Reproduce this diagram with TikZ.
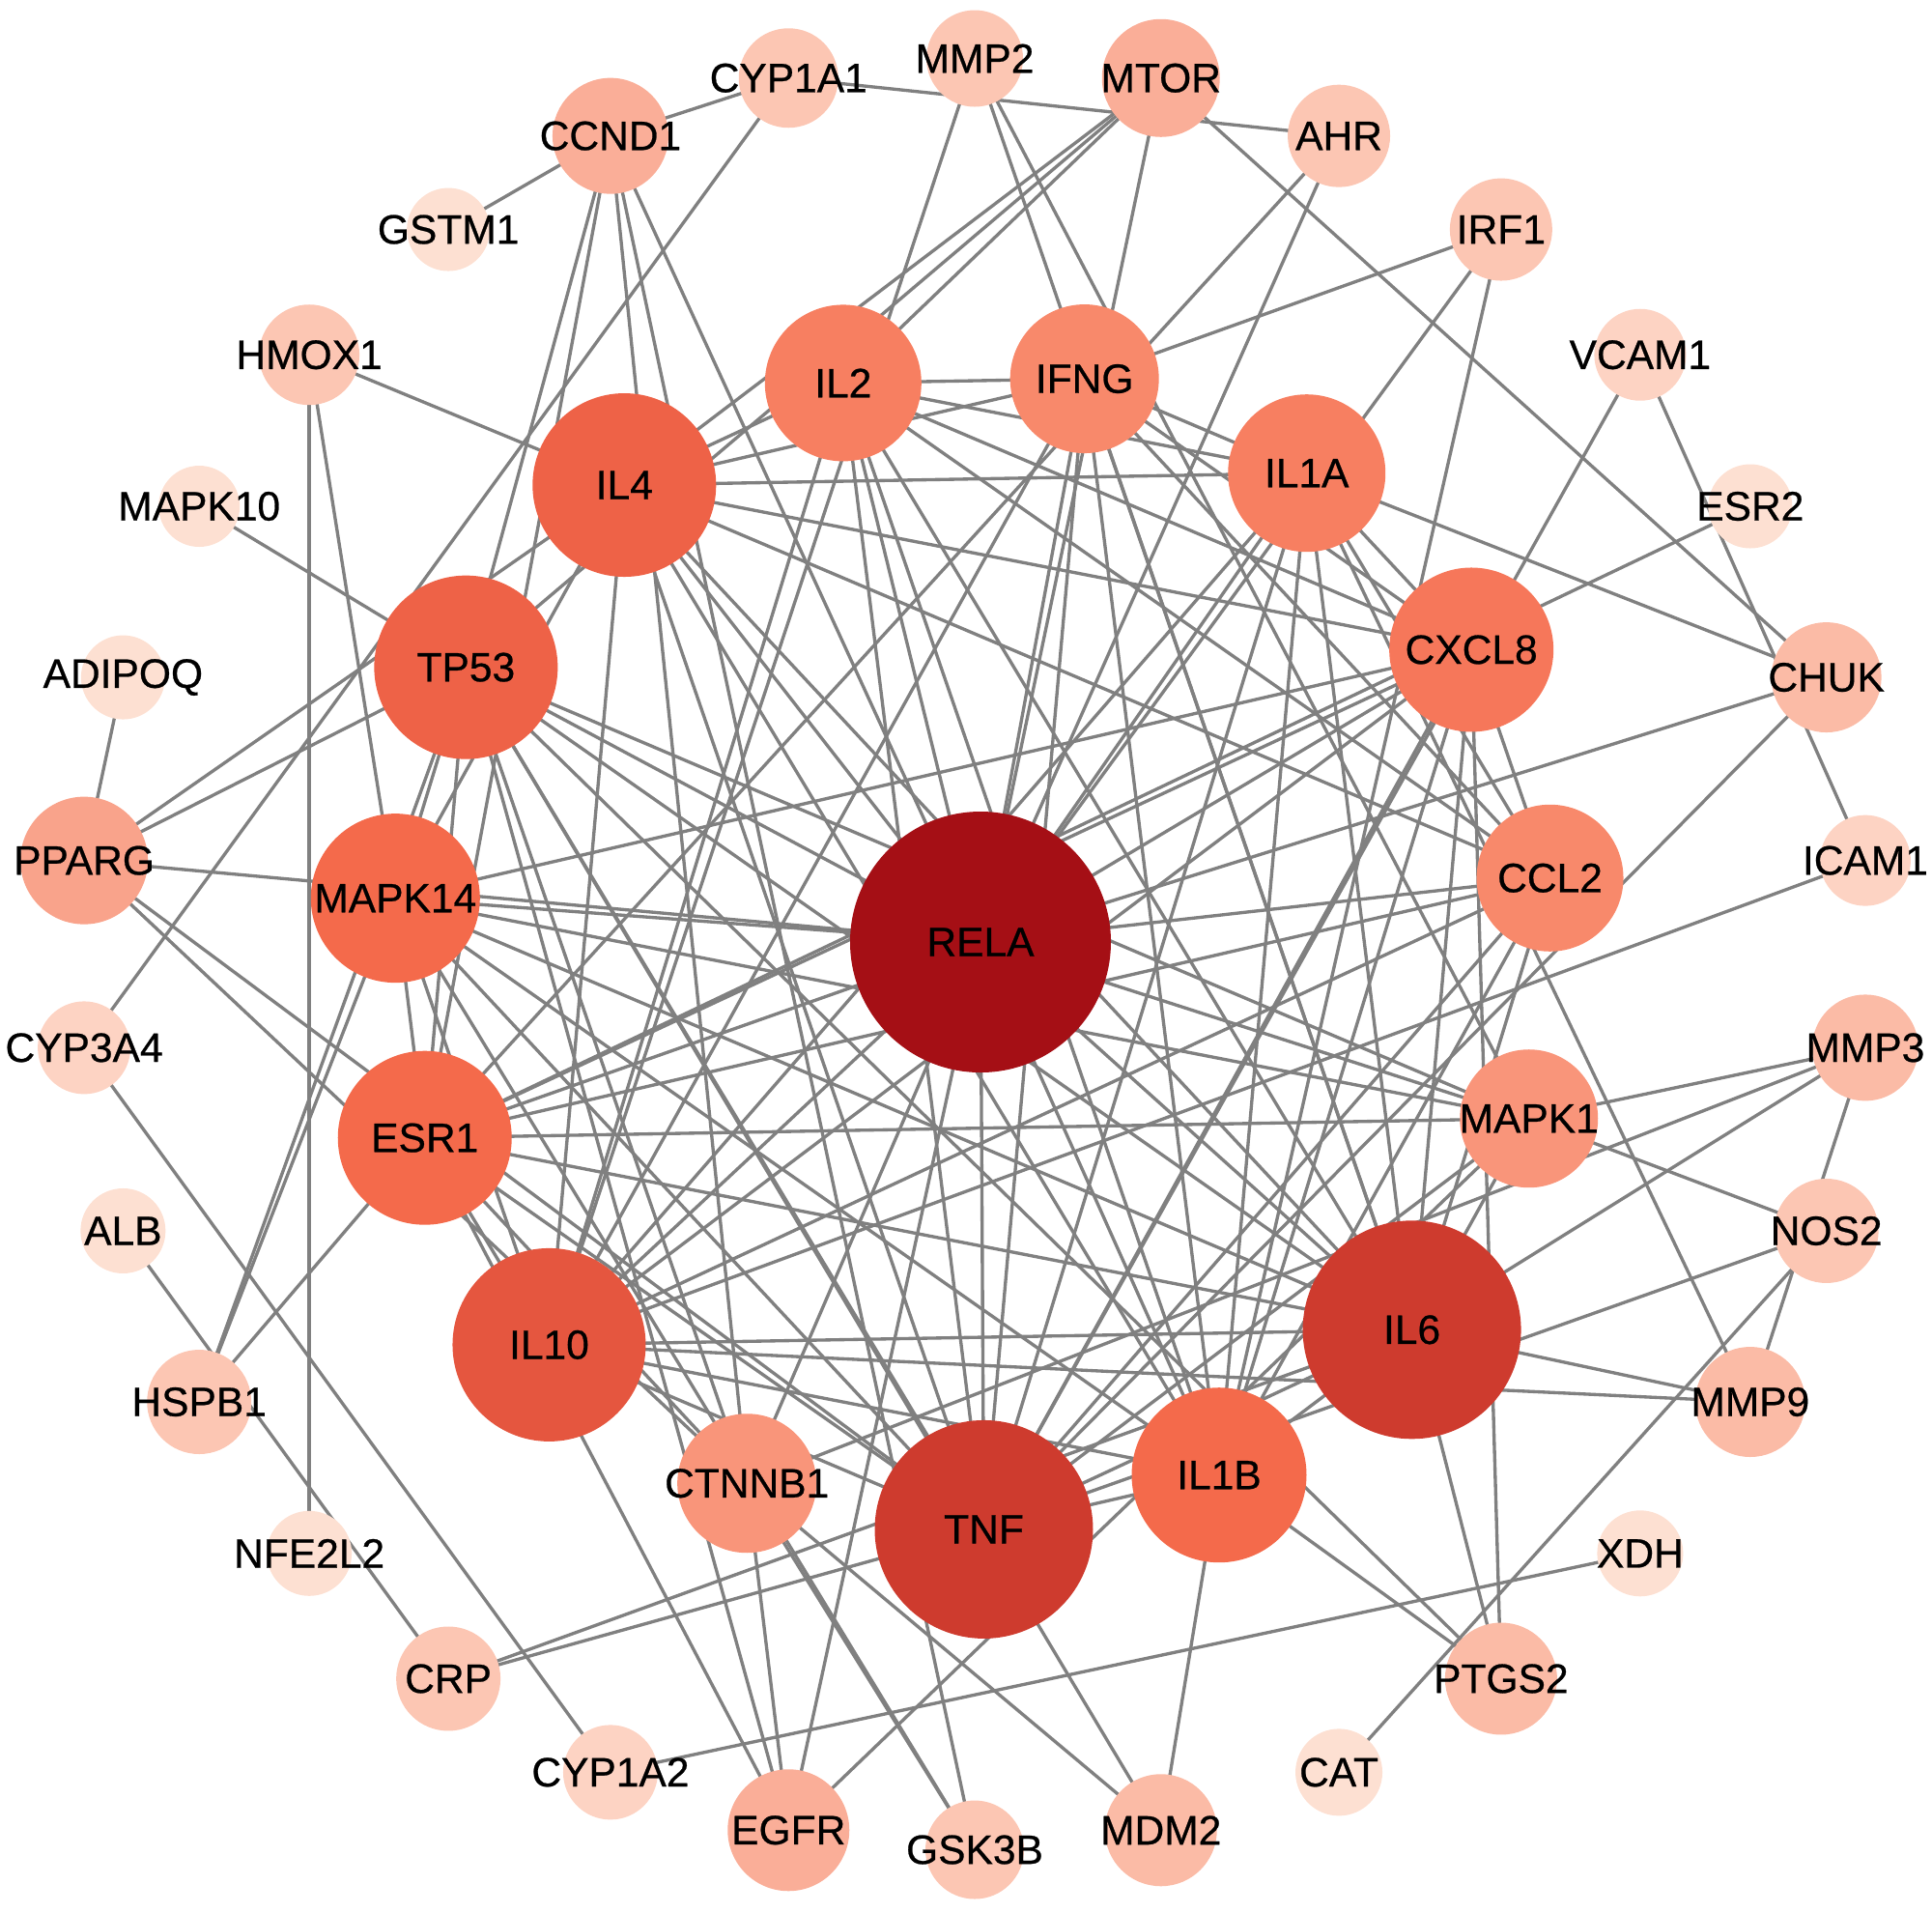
\documentclass[tikz,border=0pt]{standalone}
\usepackage{fontspec}
\setmainfont{Liberation Sans}
\newfontfamily\lblface{Liberation Sans}[FakeBold=0.6]
\pgfdeclarelayer{bg}
\pgfdeclarelayer{fg}
\pgfsetlayers{bg,main,fg}
\definecolor{edgec}{HTML}{808080}
\definecolor{cA}{HTML}{FDE0D2}
\definecolor{cB}{HTML}{FDD3C3}
\definecolor{cC}{HTML}{FCC6B3}
\definecolor{cD}{HTML}{FBBBA6}
\definecolor{cE}{HTML}{FAAE98}
\definecolor{cF}{HTML}{F9A38B}
\definecolor{cG}{HTML}{F9957A}
\definecolor{cH}{HTML}{F8896B}
\definecolor{cI}{HTML}{F77F61}
\definecolor{cJ}{HTML}{F6775A}
\definecolor{cK}{HTML}{F46A4B}
\definecolor{cL}{HTML}{EE6247}
\definecolor{cM}{HTML}{E5563F}
\definecolor{cN}{HTML}{CE3B2E}
\definecolor{cO}{HTML}{A50F15}
\newcommand{\lblfont}{\lblface\fontsize{12.1}{14}\selectfont}
\tikzset{
  nd/.style={circle, inner sep=0pt, draw=none},
  lab/.style={inner sep=0pt, font=\lblfont, text=black},
  ed/.style={draw=edgec, line width=0.95pt}
}
\newcommand{\netnode}[5]{%
  \node[nd, fill=#3, minimum size=#4cm] (#1) at (#2) {};
  \begin{pgfonlayer}{fg}\node[lab] (#1-l) at (#1.center) {#5};\end{pgfonlayer}}
\begin{document}
\begin{tikzpicture}
\useasboundingbox (0,0) rectangle (20,-19.79);
% outer ring
\begin{scope}[shift={(10.09,-9.875)}]
\netnode{MMP2}{90:9.27}{cC}{1.00}{MMP2}
\netnode{MTOR}{78:9.27}{cE}{1.22}{MTOR}
\netnode{AHR}{66:9.27}{cC}{1.06}{AHR}
\netnode{IRF1}{54:9.27}{cC}{1.06}{IRF1}
\netnode{VCAM1}{42:9.27}{cB}{0.95}{VCAM1}
\netnode{ESR2}{30:9.27}{cA}{0.87}{ESR2}
\netnode{CHUK}{18:9.27}{cD}{1.14}{CHUK}
\netnode{ICAM1}{6:9.27}{cB}{0.94}{ICAM1}
\netnode{MMP3}{-6:9.27}{cD}{1.10}{MMP3}
\netnode{NOS2}{-18:9.27}{cC}{1.08}{NOS2}
\netnode{MMP9}{-30:9.27}{cD}{1.14}{MMP9}
\netnode{XDH}{-42:9.27}{cA}{0.89}{XDH}
\netnode{PTGS2}{-54:9.27}{cD}{1.16}{PTGS2}
\netnode{CAT}{-66:9.27}{cA}{0.90}{CAT}
\netnode{MDM2}{-78:9.27}{cD}{1.16}{MDM2}
\netnode{GSK3B}{-90:9.27}{cC}{1.02}{GSK3B}
\netnode{EGFR}{-102:9.27}{cE}{1.26}{EGFR}
\netnode{CYP1A2}{-114:9.27}{cB}{0.98}{CYP1A2}
\netnode{CRP}{-126:9.27}{cC}{1.08}{CRP}
\netnode{NFE2L2}{-138:9.27}{cA}{0.88}{NFE2L2}
\netnode{HSPB1}{-150:9.27}{cC}{1.08}{HSPB1}
\netnode{ALB}{-162:9.27}{cA}{0.88}{ALB}
\netnode{CYP3A4}{-174:9.27}{cB}{0.96}{CYP3A4}
\netnode{PPARG}{174:9.27}{cF}{1.32}{PPARG}
\netnode{ADIPOQ}{162:9.27}{cA}{0.87}{ADIPOQ}
\netnode{MAPK10}{150:9.27}{cA}{0.84}{MAPK10}
\netnode{HMOX1}{138:9.27}{cC}{1.04}{HMOX1}
\netnode{GSTM1}{126:9.27}{cA}{0.86}{GSTM1}
\netnode{CCND1}{114:9.27}{cE}{1.20}{CCND1}
\netnode{CYP1A1}{102:9.27}{cC}{1.03}{CYP1A1}
\end{scope}
% inner ring
\begin{scope}[shift={(10.08,-9.82)}]
\netnode{IL2}{103:6.01}{cI}{1.62}{IL2}
\netnode{IFNG}{79:6.01}{cH}{1.54}{IFNG}
\netnode{IL1A}{55:6.01}{cI}{1.63}{IL1A}
\netnode{CXCL8}{31:6.01}{cJ}{1.70}{CXCL8}
\netnode{CCL2}{7:6.01}{cH}{1.52}{CCL2}
\netnode{MAPK1}{-17:6.01}{cG}{1.43}{MAPK1}
\netnode{IL6}{-41:6.01}{cN}{2.26}{IL6}
\netnode{IL1B}{-65:6.01}{cK}{1.81}{IL1B}
\netnode{TNF}{-89:6.01}{cN}{2.26}{TNF}
\netnode{CTNNB1}{-113:6.01}{cG}{1.44}{CTNNB1}
\netnode{IL10}{-137:6.01}{cM}{2.00}{IL10}
\netnode{ESR1}{-161:6.01}{cK}{1.80}{ESR1}
\netnode{MAPK14}{175:6.01}{cK}{1.75}{MAPK14}
\netnode{TP53}{151:6.01}{cL}{1.90}{TP53}
\netnode{IL4}{127:6.01}{cL}{1.90}{IL4}
\end{scope}
\netnode{RELA}{10.15,-9.75}{cO}{2.70}{RELA}
% edges
\begin{pgfonlayer}{bg}
\foreach \a/\b in {GSTM1/CCND1, MAPK10/TP53, ADIPOQ/PPARG, ALB/CRP, ESR2/ESR1, XDH/CYP1A2, CAT/NOS2, NFE2L2/HMOX1,
  VCAM1/ICAM1, VCAM1/TNF, ICAM1/IL10, CYP3A4/CYP1A1, CYP3A4/CYP1A2, CYP1A1/CCND1, CYP1A1/AHR,
  AHR/ESR1, AHR/RELA, IRF1/IFNG, IRF1/RELA, IRF1/IL1B, HMOX1/IL4, HMOX1/MAPK14,
  HSPB1/MAPK14, HSPB1/TP53, HSPB1/ESR1, CRP/IL6, CRP/TNF, NOS2/TNF, NOS2/MAPK1,
  MMP3/MAPK1, MMP3/CTNNB1, MMP3/IL6, MMP3/MMP9, MMP9/IL6, MMP9/IL10, MMP9/IL1A,
  PTGS2/CXCL8, PTGS2/IL6, PTGS2/TP53, PTGS2/IL1B, MDM2/TP53, MDM2/IL1B, MDM2/CTNNB1,
  GSK3B/CCND1, GSK3B/CTNNB1, GSK3B/MAPK14, EGFR/MAPK1, EGFR/ESR1, EGFR/TP53, EGFR/CTNNB1, EGFR/RELA,
  CCND1/TP53, CCND1/ESR1, CCND1/CTNNB1, CCND1/RELA, CHUK/MTOR, CHUK/IL1A, CHUK/RELA, CHUK/TNF,
  MTOR/IL4, MTOR/IL2, MTOR/RELA, MTOR/TP53, MMP2/IL10, MMP2/IL6, MMP2/MAPK1,
  PPARG/TP53, PPARG/IL4, PPARG/RELA, PPARG/TNF, PPARG/CTNNB1}
  \draw[ed] (\a.center) -- (\b.center);
\foreach \a/\b in {IL2/IFNG, IL2/IL1A, IL2/CXCL8, IL2/CCL2, IL2/IL6, IL2/IL1B, IL2/TNF, IL2/IL10, IL2/IL4,
  IFNG/IL1A, IFNG/CXCL8, IFNG/CCL2, IFNG/IL6, IFNG/IL1B, IFNG/TNF, IFNG/IL10, IFNG/IL4,
  IL1A/CXCL8, IL1A/CCL2, IL1A/IL6, IL1A/IL1B, IL1A/TNF, IL1A/IL10, IL1A/IL4,
  CXCL8/CCL2, CXCL8/IL6, CXCL8/IL1B, CXCL8/TNF, CXCL8/IL10, CXCL8/IL4,
  CCL2/IL6, CCL2/IL1B, CCL2/TNF, CCL2/IL10, CCL2/IL4,
  IL6/IL1B, IL6/TNF, IL6/IL10, IL6/IL4, IL1B/TNF, IL1B/IL10, IL1B/IL4, TNF/IL10, TNF/IL4, IL10/IL4,
  RELA/IL2, RELA/IFNG, RELA/IL1A, RELA/CXCL8, RELA/CCL2, RELA/MAPK1, RELA/IL6, RELA/IL1B, RELA/TNF,
  RELA/CTNNB1, RELA/IL10, RELA/ESR1, RELA/MAPK14, RELA/TP53, RELA/IL4,
  MAPK14/TP53, MAPK14/ESR1, MAPK14/IL10, MAPK14/TNF, MAPK14/IL6, MAPK14/IL1B, MAPK14/CXCL8, MAPK14/MAPK1, MAPK14/IL4,
  TP53/ESR1, TP53/IL6, TP53/TNF, TP53/CTNNB1, TP53/MAPK1,
  ESR1/IL10, ESR1/CTNNB1, ESR1/MAPK1, ESR1/CCL2, ESR1/CXCL8, ESR1/IL6, ESR1/TNF,
  MAPK1/IL6, MAPK1/TNF}
  \draw[ed] (\a.center) -- (\b.center);
\end{pgfonlayer}
\end{tikzpicture}
\end{document}
